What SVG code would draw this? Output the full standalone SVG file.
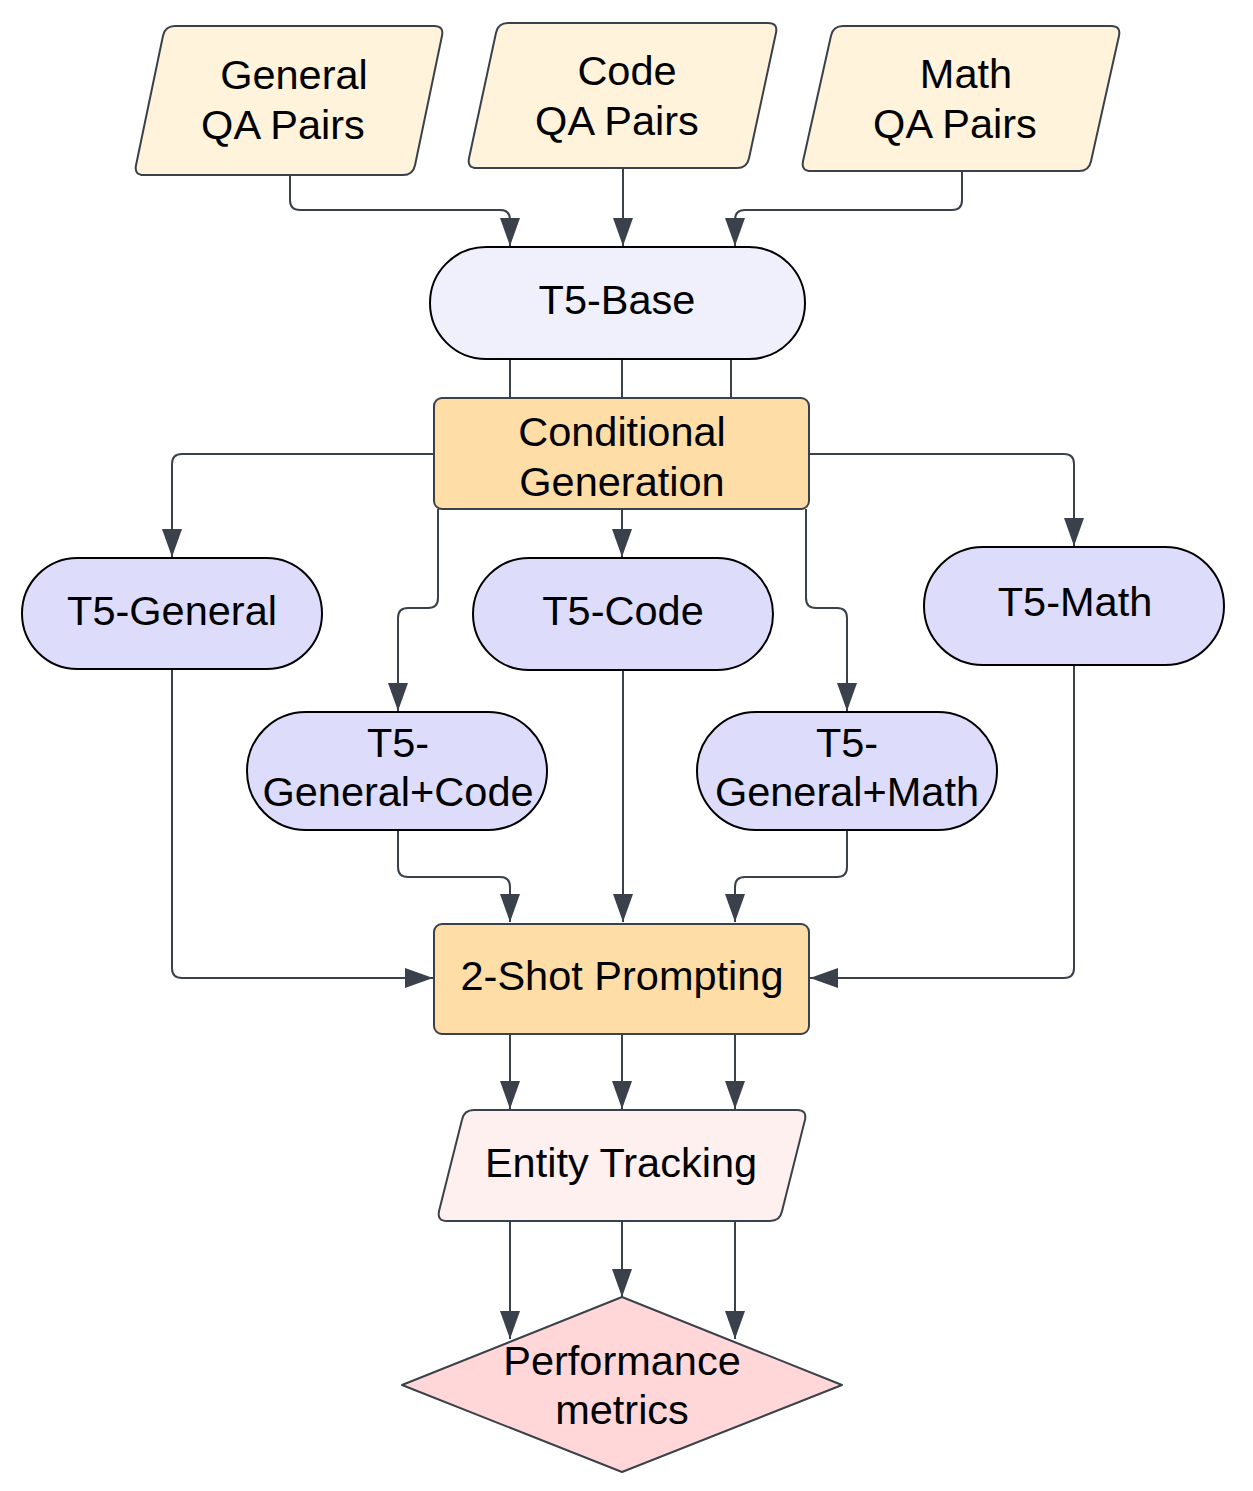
<svg xmlns="http://www.w3.org/2000/svg" width="1253" height="1491" viewBox="0 0 1253 1491">
<style>
.t{font-family:"Liberation Sans",Arial,sans-serif;font-size:41.5px;fill:#000;text-anchor:middle}
.c{fill:none;stroke:#3a414a;stroke-width:2}
.in{fill:#fff3db;stroke:#3a414a;stroke-width:2}
.base{fill:#f0f0fc;stroke:#000;stroke-width:2}
.m{fill:#dddcfb;stroke:#000;stroke-width:2}
.p{fill:#fedda6;stroke:#3a414a;stroke-width:2}
.e{fill:#fef0ef;stroke:#3a414a;stroke-width:2}
.d{fill:#ffd7d8;stroke:#3a414a;stroke-width:2;stroke-linejoin:round}
</style>
<defs>
<marker id="ah" markerUnits="userSpaceOnUse" markerWidth="28" markerHeight="20" refX="28" refY="10" orient="auto">
<path d="M0,0 L28,10 L0,20 Z" fill="#3a414a"/>
</marker>
</defs>
<rect width="1253" height="1491" fill="#fff"/>
<g id="connectors">
<path class="c" d="M290,175 V200 Q290,210 300,210 H500 Q510,210 510,220 V246" marker-end="url(#ah)"/>
<path class="c" d="M623,168 V246" marker-end="url(#ah)"/>
<path class="c" d="M962,171 V200 Q962,210 952,210 H745 Q735,210 735,220 V246" marker-end="url(#ah)"/>
<path class="c" d="M510,359 V398 M622,359 V398 M731,359 V398"/>
<path class="c" d="M434,454 H182 Q172,454 172,464 V557" marker-end="url(#ah)"/>
<path class="c" d="M809,454 H1064 Q1074,454 1074,464 V546" marker-end="url(#ah)"/>
<path class="c" d="M622,509 V557" marker-end="url(#ah)"/>
<path class="c" d="M438,509 V598 Q438,608 428,608 H408 Q398,608 398,618 V711" marker-end="url(#ah)"/>
<path class="c" d="M806,509 V598 Q806,608 816,608 H837 Q847,608 847,618 V711" marker-end="url(#ah)"/>
<path class="c" d="M172,669 V968 Q172,978 182,978 H433" marker-end="url(#ah)"/>
<path class="c" d="M1074,665 V968 Q1074,978 1064,978 H810" marker-end="url(#ah)"/>
<path class="c" d="M623,670 V922" marker-end="url(#ah)"/>
<path class="c" d="M398,830 V867 Q398,877 408,877 H500 Q510,877 510,887 V922" marker-end="url(#ah)"/>
<path class="c" d="M847,830 V867 Q847,877 837,877 H745 Q735,877 735,887 V922" marker-end="url(#ah)"/>
<path class="c" d="M510,1034 V1109" marker-end="url(#ah)"/>
<path class="c" d="M622,1034 V1109" marker-end="url(#ah)"/>
<path class="c" d="M735,1034 V1109" marker-end="url(#ah)"/>
<path class="c" d="M510,1221 V1339" marker-end="url(#ah)"/>
<path class="c" d="M622,1221 V1297" marker-end="url(#ah)"/>
<path class="c" d="M735,1221 V1339" marker-end="url(#ah)"/>
</g>
<g id="general-qa">
<path class="in" d="M175,26 H434 Q444,26 442,35.8 L415,165.2 Q413,175 403,175 H144 Q134,175 136,165.2 L163,35.8 Q165,26 175,26 Z"/>
<text class="t" x="294" y="89">General</text>
<text class="t" x="283" y="139">QA Pairs</text>
</g>
<g id="code-qa">
<path class="in" d="M508,23 H768 Q778,23 776,32.8 L749,158.2 Q747,168 737,168 H477 Q467,168 469,158.2 L496,32.8 Q498,23 508,23 Z"/>
<text class="t" x="627" y="85">Code</text>
<text class="t" x="617" y="135">QA Pairs</text>
</g>
<g id="math-qa">
<path class="in" d="M843,26 H1111 Q1121,26 1119,35.8 L1091,161.2 Q1089,171 1079,171 H811 Q801,171 803,161.2 L831,35.8 Q833,26 843,26 Z"/>
<text class="t" x="966" y="88">Math</text>
<text class="t" x="955" y="138">QA Pairs</text>
</g>
<g id="t5-base">
<rect class="base" x="430" y="247" width="375" height="112" rx="56"/>
<text class="t" x="617" y="314">T5-Base</text>
</g>
<g id="conditional-generation">
<rect class="p" x="434" y="398" width="375" height="111" rx="8"/>
<text class="t" x="622" y="446">Conditional</text>
<text class="t" x="622" y="496">Generation</text>
</g>
<g id="t5-general">
<rect class="m" x="22" y="558" width="300" height="111" rx="55.5"/>
<text class="t" x="172" y="625">T5-General</text>
</g>
<g id="t5-code">
<rect class="m" x="473" y="558" width="300" height="112" rx="56"/>
<text class="t" x="623" y="625">T5-Code</text>
</g>
<g id="t5-math">
<rect class="m" x="924" y="547" width="300" height="118" rx="59"/>
<text class="t" x="1075" y="616">T5-Math</text>
</g>
<g id="t5-general-code">
<rect class="m" x="247" y="712" width="300" height="118" rx="59"/>
<text class="t" x="398" y="757">T5-</text>
<text class="t" x="398" y="806">General+Code</text>
</g>
<g id="t5-general-math">
<rect class="m" x="697" y="712" width="300" height="118" rx="59"/>
<text class="t" x="847" y="757">T5-</text>
<text class="t" x="847" y="806">General+Math</text>
</g>
<g id="two-shot-prompting">
<rect class="p" x="434" y="924" width="375" height="110" rx="8"/>
<text class="t" x="622" y="990">2-Shot Prompting</text>
</g>
<g id="entity-tracking">
<path class="e" d="M474,1110 H797 Q807,1110 805,1119.7 L782,1211.3 Q780,1221 770,1221 H447 Q437,1221 439,1211.3 L462,1119.7 Q464,1110 474,1110 Z"/>
<text class="t" x="621" y="1177">Entity Tracking</text>
</g>
<g id="performance-metrics">
<polygon class="d" points="622,1297 842,1385 622,1472 402,1385"/>
<text class="t" x="622" y="1375">Performance</text>
<text class="t" x="622" y="1424">metrics</text>
</g>
</svg>
